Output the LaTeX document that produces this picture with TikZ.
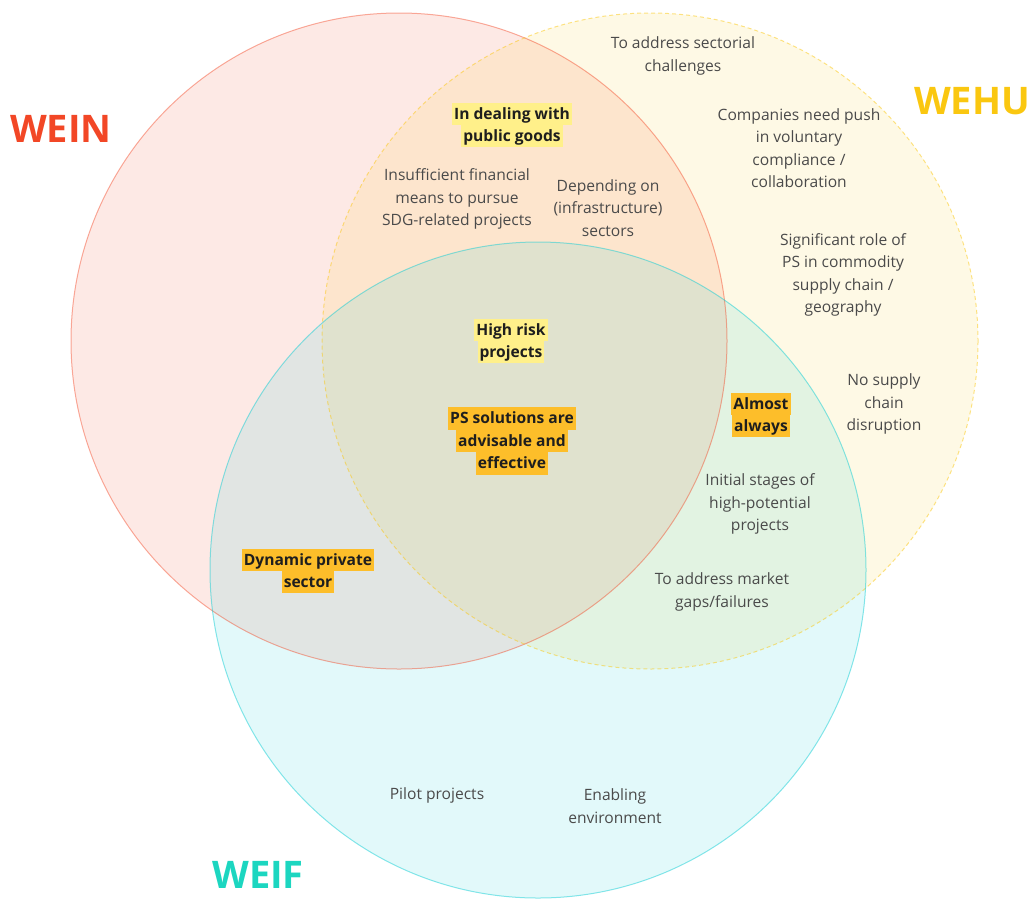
\documentclass[tikz,border=0pt]{standalone}
\usepackage{fontspec}
\setmainfont{Open Sans}
\usetikzlibrary{backgrounds}

\definecolor{weinred}{HTML}{F24726}
\definecolor{wehuyellow}{HTML}{FAC710}
\definecolor{weifteal}{HTML}{12CDD4}
\definecolor{weifname}{HTML}{1CD6C0}
\definecolor{bodygrey}{HTML}{4A4A4A}
\definecolor{inkdark}{HTML}{1E1E1E}
\definecolor{hlpale}{HTML}{FFF08A}
\definecolor{hlgold}{HTML}{FDBE2A}

% one highlighted line of text; boxes of stacked lines touch
\newcommand\hlline[2]{{\setlength\fboxsep{0pt}\colorbox{#1}{\kern2pt\rule[-6pt]{0pt}{22.4pt}#2\kern2pt}}}

\tikzset{
  setcircle/.style={line width=1pt},
  body/.style={align=center, text=bodygrey, font=\fontsize{15.6}{22.4}\selectfont, inner sep=0pt},
  keynote/.style={align=center, text=inkdark, font=\fontsize{15.6}{22.4}\selectfont\bfseries, inner sep=0pt},
  setname/.style={font=\fontsize{38}{44}\selectfont\bfseries, inner sep=0pt},
}

\begin{document}
\begin{tikzpicture}[x=1pt, y=-1pt]
\useasboundingbox (0,0) rectangle (1033,898);

% the three sets
\fill[weinred, fill opacity=0.12] (399,341) circle[radius=328];
\fill[wehuyellow, fill opacity=0.11] (650,341) circle[radius=328];
\fill[weifteal, fill opacity=0.12] (538,570) circle[radius=328];
\draw[setcircle, weinred, draw opacity=0.45] (399,341) circle[radius=328];
\draw[setcircle, wehuyellow, draw opacity=0.5, dash pattern=on 4pt off 3pt] (650,341) circle[radius=328];
\draw[setcircle, weifteal, draw opacity=0.5] (538,570) circle[radius=328];

% set names
\node[setname, text=weinred] (nWEIN) at (61,129) {WEIN};
\node[setname, text=wehuyellow] (nWEHU) at (972,101) {WEHU};
\node[setname, text=weifname] (nWEIF) at (258,875) {WEIF};

% statements
\node[body] (tSector) at (683,56) {To address sectorial\\challenges};
\node[keynote] (tPublic) at (512,125) {\hlline{hlpale}{In dealing with}\\\hlline{hlpale}{public goods}};
\node[body] (tPush) at (799,148) {Companies need push\\in voluntary\\compliance /\\collaboration};
\node[body] (tFinance) at (457,199) {Insufficient financial\\means to pursue\\SDG-related projects};
\node[body] (tInfra) at (608,208) {Depending on\\(infrastructure)\\sectors};
\node[body] (tSupply) at (843,275) {Significant role of\\PS in commodity\\supply chain /\\geography};
\node[keynote] (tRisk) at (511,341) {\hlline{hlpale}{High risk}\\\hlline{hlpale}{projects}};
\node[body] (tNoDisrupt) at (884,404) {No supply\\chain\\disruption};
\node[keynote] (tAlways) at (761,415) {\hlline{hlgold}{Almost}\\\hlline{hlgold}{always}};
\node[keynote] (tCore) at (512,441) {\hlline{hlgold}{PS solutions are}\\\hlline{hlgold}{advisable and}\\\hlline{hlgold}{effective}};
\node[body] (tInitial) at (760,504) {Initial stages of\\high-potential\\projects};
\node[keynote] (tDynamic) at (308,571) {\hlline{hlgold}{Dynamic private}\\\hlline{hlgold}{sector}};
\node[body] (tMarket) at (722,592) {To address market\\gaps/failures};
\node[body] (tPilot) at (437,795) {Pilot projects};
\node[body] (tEnabling) at (615,806) {Enabling\\environment};
\end{tikzpicture}
\end{document}
